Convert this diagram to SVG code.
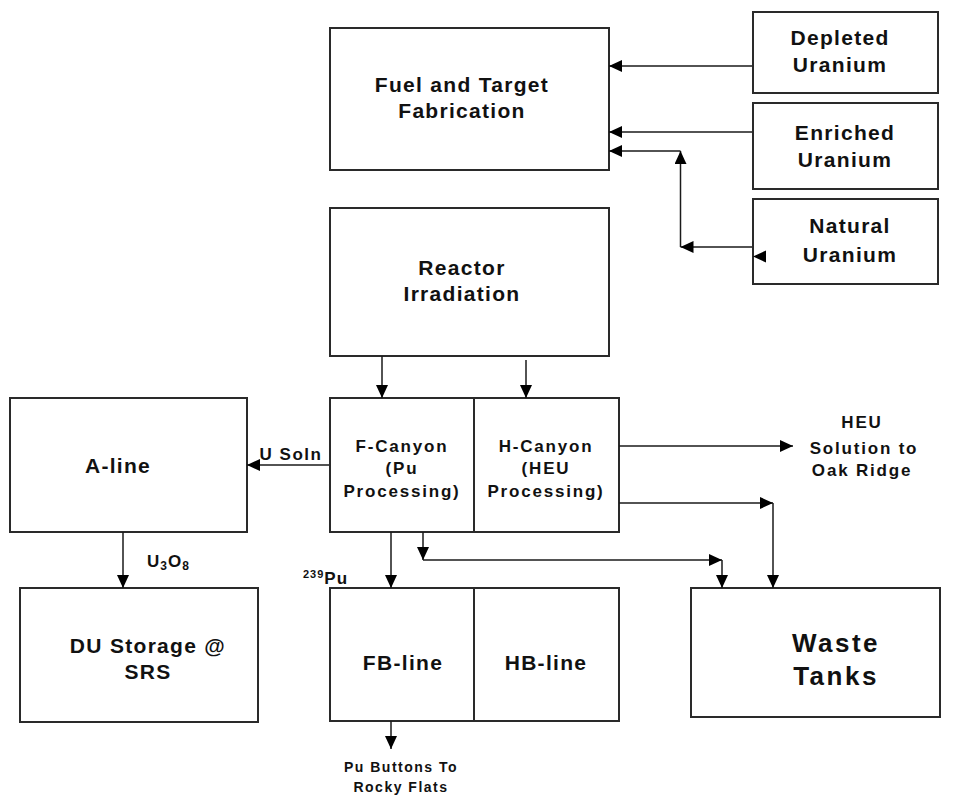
<svg xmlns="http://www.w3.org/2000/svg" width="970" height="799" viewBox="0 0 970 799">
<style>
.box{fill:#fff;stroke:#2a2a2a;stroke-width:2}
.ln{fill:none;stroke:#1a1a1a;stroke-width:1.5}
.t{font-family:"Liberation Sans",Arial,sans-serif;font-weight:bold;fill:#111;text-anchor:middle}
.big{font-size:21px;letter-spacing:1.3px}
.mid{font-size:17px;letter-spacing:1.8px}
.sm{font-size:14px;letter-spacing:1.5px}
.wt{font-size:26px;letter-spacing:2.5px}
</style>
<defs>
<marker id="ah" markerUnits="userSpaceOnUse" markerWidth="13" markerHeight="12" refX="13" refY="6" orient="auto">
<path d="M0,0 L13,6 L0,12 z" fill="#000"/>
</marker>
</defs>
<rect width="970" height="799" fill="#fff"/>
<g id="fuel"><rect class="box" x="330" y="28" width="279" height="142"/>
<text class="t big" x="462" y="92">Fuel and Target</text><text class="t big" x="462" y="118">Fabrication</text></g>
<g id="depleted"><rect class="box" x="753" y="12" width="185" height="81"/>
<text class="t big" x="840" y="45">Depleted</text><text class="t big" x="840" y="72">Uranium</text></g>
<g id="enriched"><rect class="box" x="753" y="103" width="185" height="86"/>
<text class="t big" x="845" y="140">Enriched</text><text class="t big" x="845" y="167">Uranium</text></g>
<g id="natural"><rect class="box" x="753" y="199" width="185" height="85"/>
<text class="t big" x="850" y="233">Natural</text><text class="t big" x="850" y="262">Uranium</text>
<path d="M753,256.5 L766,250.5 L766,262.5 z" fill="#000"/></g>
<g id="reactor"><rect class="box" x="330" y="208" width="279" height="148"/>
<text class="t big" x="462" y="275">Reactor</text><text class="t big" x="462" y="301">Irradiation</text></g>
<g id="fcanyon"><rect class="box" x="330" y="398" width="144" height="134"/>
<text class="t mid" x="402" y="452">F-Canyon</text><text class="t mid" x="402" y="474">(Pu</text><text class="t mid" x="402" y="497">Processing)</text></g>
<g id="hcanyon"><rect class="box" x="474" y="398" width="145" height="134"/>
<text class="t mid" x="546" y="452">H-Canyon</text><text class="t mid" x="546" y="474">(HEU</text><text class="t mid" x="546" y="497">Processing)</text></g>
<g id="aline"><rect class="box" x="10" y="398" width="237" height="134"/>
<text class="t big" x="118" y="473">A-line</text></g>
<g id="dustorage"><rect class="box" x="20" y="588" width="238" height="134"/>
<text class="t big" x="148" y="653">DU Storage @</text><text class="t big" x="148" y="679">SRS</text></g>
<g id="fbline"><rect class="box" x="330" y="588" width="144" height="133"/>
<text class="t big" x="403" y="670">FB-line</text></g>
<g id="hbline"><rect class="box" x="474" y="588" width="145" height="133"/>
<text class="t big" x="546" y="670">HB-line</text></g>
<g id="waste"><rect class="box" x="691" y="588" width="249" height="129"/>
<text class="t wt" x="836" y="652">Waste</text><text class="t wt" x="836" y="685">Tanks</text></g>
<g id="heu"><text class="t mid" x="862" y="428">HEU</text><text class="t mid" x="864" y="454">Solution to</text><text class="t mid" x="862" y="476">Oak Ridge</text></g>
<g id="pubuttons"><text class="t sm" x="401" y="772">Pu Buttons To</text><text class="t sm" x="401" y="792">Rocky Flats</text></g>
<g id="connectors">
<line class="ln" x1="752" y1="66" x2="609" y2="66" marker-end="url(#ah)"/>
<line class="ln" x1="752" y1="132" x2="609" y2="132" marker-end="url(#ah)"/>
<line class="ln" x1="752" y1="247" x2="680.5" y2="247" marker-end="url(#ah)"/>
<line class="ln" x1="680.5" y1="247" x2="680.5" y2="151" marker-end="url(#ah)"/>
<line class="ln" x1="680.5" y1="151" x2="609" y2="151" marker-end="url(#ah)"/>
<line class="ln" x1="382" y1="356" x2="382" y2="398" marker-end="url(#ah)"/>
<line class="ln" x1="526" y1="360" x2="526" y2="398" marker-end="url(#ah)"/>
<line class="ln" x1="329" y1="465" x2="247" y2="465" marker-end="url(#ah)"/>
<text class="t mid" x="291" y="460" style="letter-spacing:1.5px">U Soln</text>
<line class="ln" x1="619" y1="446" x2="793" y2="446" marker-end="url(#ah)"/>
<line class="ln" x1="619" y1="503" x2="773" y2="503" marker-end="url(#ah)"/>
<line class="ln" x1="773" y1="503" x2="773" y2="588" marker-end="url(#ah)"/>
<line class="ln" x1="423" y1="532" x2="423" y2="560" marker-end="url(#ah)"/>
<line class="ln" x1="423" y1="560" x2="722" y2="560" marker-end="url(#ah)"/>
<line class="ln" x1="722" y1="560" x2="722" y2="588" marker-end="url(#ah)"/>
<line class="ln" x1="391" y1="532" x2="391" y2="588" marker-end="url(#ah)"/>
<text class="t" x="303" y="584" style="text-anchor:start;font-size:17px;letter-spacing:1px"><tspan font-size="11" dy="-6">239</tspan><tspan dy="6">Pu</tspan></text>
<line class="ln" x1="123" y1="532" x2="123" y2="588" marker-end="url(#ah)"/>
<text class="t" x="147" y="567" style="text-anchor:start;font-size:17px;letter-spacing:1px">U<tspan font-size="12" dy="3">3</tspan><tspan dy="-3">O</tspan><tspan font-size="12" dy="3">8</tspan></text>
<line class="ln" x1="391" y1="721" x2="391" y2="749" marker-end="url(#ah)"/>
</g>
</svg>
